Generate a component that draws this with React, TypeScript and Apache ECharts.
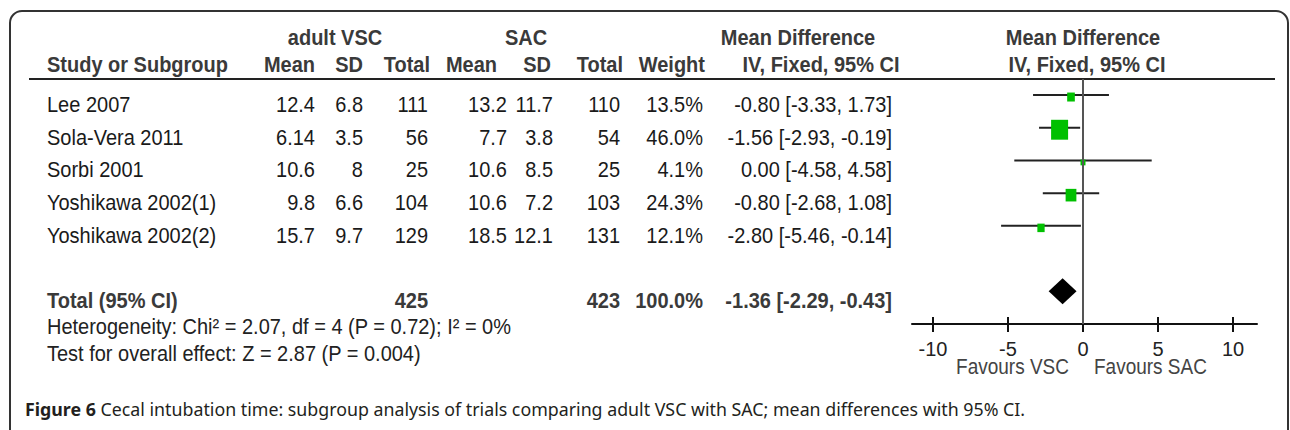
import React, { useEffect, useRef } from "react";
import * as echarts from "echarts";

// ---------- data ----------
const studies = ["Lee 2007", "Sola-Vera 2011", "Sorbi 2001", "Yoshikawa 2002(1)", "Yoshikawa 2002(2)"];
const vscMean = [12.4, 6.14, 10.6, 9.8, 15.7];
const vscSD = [6.8, 3.5, 8, 6.6, 9.7];
const vscTotal = [111, 56, 25, 104, 129];
const sacMean = [13.2, 7.7, 10.6, 10.6, 18.5];
const sacSD = [11.7, 3.8, 8.5, 7.2, 12.1];
const sacTotal = [110, 54, 25, 103, 131];
const weights = [13.5, 46.0, 4.1, 24.3, 12.1];
const meanDiff = [-0.8, -1.56, 0.0, -0.8, -2.8];
const ciLow = [-3.33, -2.93, -4.58, -2.68, -5.46];
const ciHigh = [1.73, -0.19, 4.58, 1.08, -0.14];

const totalVSC = 425;
const totalSAC = 423;
const totalWeight = 100.0;
const totalMD = -1.36;
const totalLow = -2.29;
const totalHigh = -0.43;

const heterogeneityText = "Heterogeneity: Chi\u00b2 = 2.07, df = 4 (P = 0.72); I\u00b2 = 0%";
const overallText = "Test for overall effect: Z = 2.87 (P = 0.004)";
const xTicks = [-10, -5, 0, 5, 10];
const captionBold = "Figure 6";
const captionRest = " Cecal intubation time: subgroup analysis of trials comparing adult VSC with SAC; mean differences with 95% CI.";

// ---------- layout ----------
const FAMILY = "Liberation Sans";
const SY = 1.12;
const rowTextY = (i: number) => 104 + 32.75 * i;
const TOTAL_ROW = 6;

const fmtCI = (m: number, lo: number, hi: number) =>
  `${m.toFixed(2)} [${lo.toFixed(2)}, ${hi.toFixed(2)}]`;

function txt(text: string, x: number, y: number, align: string, opts: any = {}) {
  return {
    type: "text",
    x,
    y,
    scaleY: opts.sy || SY,
    silent: true,
    style: {
      text,
      fill: opts.fill || "#1a1a1a",
      fontFamily: opts.family || FAMILY,
      fontSize: opts.size || 20,
      fontWeight: opts.bold ? "bold" : "normal",
      textAlign: align,
      textVerticalAlign: "middle",
    },
  };
}

export default function App() {
  const ref = useRef<HTMLDivElement>(null);

  useEffect(() => {
    if (!ref.current) return;
    const chart = echarts.init(ref.current, undefined, { renderer: "svg" });

    const H = "#3a3a3a";
    const graphics: any[] = [];
    // frame
    graphics.push({
      type: "rect",
      silent: true,
      shape: { x: 10, y: 11, width: 1278, height: 470, r: 12 },
      style: { fill: "none", stroke: "#333", lineWidth: 2 },
    });
    // header line
    graphics.push({
      type: "line",
      silent: true,
      shape: { x1: 29, y1: 79, x2: 1275, y2: 79 },
      style: { stroke: "#222", lineWidth: 2 },
    });
    // group headers
    graphics.push(txt("adult VSC", 335, 37, "center", { bold: true, fill: H }));
    graphics.push(txt("SAC", 526, 37, "center", { bold: true, fill: H }));
    graphics.push(txt("Mean Difference", 798, 37, "center", { bold: true, fill: H }));
    graphics.push(txt("Mean Difference", 1083, 37, "center", { bold: true, fill: H }));
    // column headers
    const hy = 64;
    graphics.push(txt("Study or Subgroup", 47, hy, "left", { bold: true, fill: H }));
    graphics.push(txt("Mean", 315, hy, "right", { bold: true, fill: H }));
    graphics.push(txt("SD", 363, hy, "right", { bold: true, fill: H }));
    graphics.push(txt("Total", 430, hy, "right", { bold: true, fill: H }));
    graphics.push(txt("Mean", 497, hy, "right", { bold: true, fill: H }));
    graphics.push(txt("SD", 551, hy, "right", { bold: true, fill: H }));
    graphics.push(txt("Total", 623, hy, "right", { bold: true, fill: H }));
    graphics.push(txt("Weight", 705, hy, "right", { bold: true, fill: H }));
    graphics.push(txt("IV, Fixed, 95% CI", 821, hy, "center", { bold: true, fill: H }));
    graphics.push(txt("IV, Fixed, 95% CI", 1087, hy, "center", { bold: true, fill: H }));

    // study rows
    studies.forEach((s, i) => {
      const y = rowTextY(i);
      graphics.push(txt(s, 47, y, "left"));
      graphics.push(txt(String(vscMean[i]), 315, y, "right"));
      graphics.push(txt(String(vscSD[i]), 363, y, "right"));
      graphics.push(txt(String(vscTotal[i]), 428, y, "right"));
      graphics.push(txt(String(sacMean[i]), 507, y, "right"));
      graphics.push(txt(String(sacSD[i]), 553, y, "right"));
      graphics.push(txt(String(sacTotal[i]), 620, y, "right"));
      graphics.push(txt(weights[i].toFixed(1) + "%", 703, y, "right"));
      graphics.push(txt(fmtCI(meanDiff[i], ciLow[i], ciHigh[i]), 892, y, "right"));
    });
    // total row
    const ty = 300;
    graphics.push(txt("Total (95% CI)", 47, ty, "left", { bold: true, fill: H }));
    graphics.push(txt(String(totalVSC), 428, ty, "right", { bold: true, fill: H }));
    graphics.push(txt(String(totalSAC), 620, ty, "right", { bold: true, fill: H }));
    graphics.push(txt(totalWeight.toFixed(1) + "%", 703, ty, "right", { bold: true, fill: H }));
    graphics.push(txt(fmtCI(totalMD, totalLow, totalHigh), 892, ty, "right", { bold: true, fill: H }));
    graphics.push(txt(heterogeneityText, 47, 326, "left", { fill: "#222" }));
    graphics.push(txt(overallText, 47, 353, "left", { fill: "#222" }));
    // favours
    graphics.push(txt("Favours VSC", 1069, 367, "right", { fill: "#444", size: 19 }));
    graphics.push(txt("Favours SAC", 1094, 367, "left", { fill: "#444", size: 19 }));
    // caption
    graphics.push({
      type: "text",
      x: 25,
      y: 409,
      silent: true,
      style: {
        text: `{b|${captionBold}}${captionRest}`,
        fill: "#231f20",
        fontFamily: "Noto Sans",
        fontSize: 17.8,
        textAlign: "left",
        textVerticalAlign: "middle",
        rich: {
          b: { fontWeight: "bold", fontSize: 17.8, fontFamily: "Noto Sans", fill: "#231f20" },
        },
      },
    });

    const studyData = meanDiff.map((m, i) => [m, i, ciLow[i], ciHigh[i], weights[i]]);
    const totalData = [[totalMD, TOTAL_ROW, totalLow, totalHigh]];

    chart.setOption({
      animation: false,
      grid: { left: 912, width: 345, top: 79, height: 245, containLabel: false },
      xAxis: [
        {
          type: "value",
          min: -11.4,
          max: 11.6,
          axisLine: { show: true, onZero: false, lineStyle: { color: "#111", width: 2 } },
          axisTick: { show: true, length: 8, customValues: xTicks, lineStyle: { color: "#111", width: 2 } },
          axisLabel: {
            show: true,
            customValues: xTicks,
            margin: 15,
            color: "#222",
            fontSize: 20,
            fontFamily: FAMILY,
          },
          splitLine: { show: false },
        },
        {
          type: "value",
          position: "bottom",
          min: -11.4,
          max: 11.6,
          axisLine: { show: false, onZero: false },
          axisTick: { show: true, inside: true, length: 7, customValues: xTicks, lineStyle: { color: "#111", width: 2 } },
          axisLabel: { show: false },
          splitLine: { show: false },
        },
      ],
      yAxis: {
        type: "value",
        inverse: true,
        min: -0.49,
        max: 7,
        show: false,
      },
      series: [
        {
          type: "custom",
          xAxisIndex: 0,
          data: studyData,
          encode: { x: [0, 2, 3], y: 1 },
          silent: true,
          renderItem: (params: any, api: any) => {
            const y = api.value(1);
            const p = api.coord([api.value(0), y]);
            const lo = api.coord([api.value(2), y]);
            const hi = api.coord([api.value(3), y]);
            const w = 3.8 + 0.287 * api.value(4);
            const h = w * 1.17;
            return {
              type: "group",
              children: [
                {
                  type: "line",
                  shape: { x1: lo[0], y1: lo[1], x2: hi[0], y2: hi[1] },
                  style: { stroke: "#222", lineWidth: 2 },
                },
                {
                  type: "rect",
                  shape: { x: p[0] - w / 2, y: p[1] - h / 2 + 2, width: w, height: h },
                  style: { fill: "#00c000" },
                },
              ],
            };
          },
          markLine: {
            silent: true,
            symbol: "none",
            label: { show: false },
            lineStyle: { color: "#555", width: 2, type: "solid" },
            data: [{ xAxis: 0 }],
          },
        },
        {
          type: "custom",
          xAxisIndex: 0,
          data: totalData,
          encode: { x: [0, 2, 3], y: 1 },
          silent: true,
          renderItem: (params: any, api: any) => {
            const y = api.value(1);
            const p = api.coord([api.value(0), y]);
            const lo = api.coord([api.value(2), y]);
            const hi = api.coord([api.value(3), y]);
            const hh = 13;
            return {
              type: "polygon",
              shape: {
                points: [
                  [lo[0], p[1]],
                  [p[0], p[1] - hh],
                  [hi[0], p[1]],
                  [p[0], p[1] + hh],
                ],
              },
              style: { fill: "#000" },
            };
          },
        },
      ],
      graphic: graphics,
    });

    return () => chart.dispose();
  }, []);

  return (
    <div
      ref={ref}
      style={{ position: "fixed", left: 0, top: 0, width: 1290, height: 430, background: "#fff" }}
    />
  );
}
